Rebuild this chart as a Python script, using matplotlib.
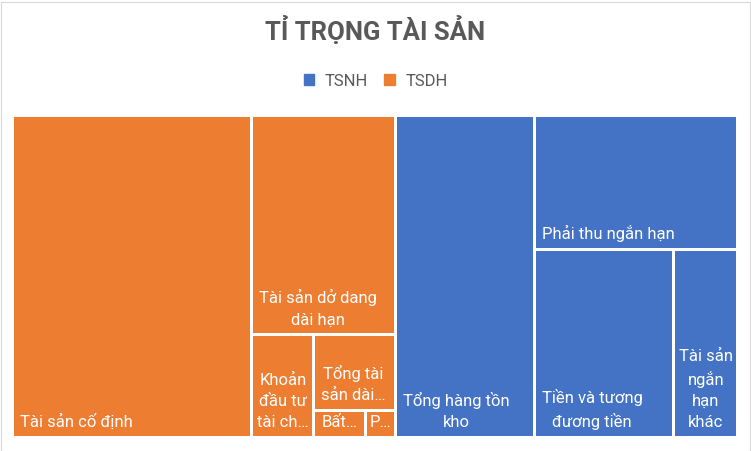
import matplotlib as mpl
mpl.use('Agg')
import matplotlib.pyplot as plt
from matplotlib.patches import Rectangle, Patch
from matplotlib.font_manager import FontProperties

# gia tri doc tu hinh (% tong tai san)
tsdh_labels = ['Tài sản cố định', 'Tài sản dở dang dài hạn', 'Khoản đầu tư tài chính dài hạn',
               'Tổng tài sản dài hạn khác', 'Bất động sản đầu tư', 'Phải thu dài hạn']
tsdh_values = [33.0, 13.5, 2.7, 2.65, 0.6, 0.35]
tsnh_labels = ['Tổng hàng tồn kho', 'Phải thu ngắn hạn', 'Tiền và tương đương tiền', 'Tài sản ngắn hạn khác']
tsnh_values = [19.1, 11.7, 11.2, 5.1]
group_names = ['TSNH', 'TSDH']
group_colors = ['#4472C4', '#ED7D31']

FONT = ['Roboto', 'DejaVu Sans']
plt.rcParams['font.family'] = FONT

fig = plt.figure(figsize=(7.51, 4.51), dpi=100)
L, R, T, B = 12.5, 737.5, 115, 437.5
ax = fig.add_axes([L / 751, 1 - B / 451, (R - L) / 751, (B - T) / 451])
W, H = R - L, B - T
ax.set_xlim(0, W)
ax.set_ylim(H, 0)
ax.axis('off')


def strips(values, x, y, w, h):
    # moi o lay mot dai theo canh ngan cua phan con lai
    order = sorted(range(len(values)), key=lambda i: -values[i])
    rest = float(sum(values))
    out = {}
    for k, i in enumerate(order):
        if k == len(order) - 1:
            out[i] = (x, y, w, h)
            break
        f = values[i] / rest
        if w >= h:
            sw = w * f
            out[i] = (x, y, sw, h)
            x += sw
            w -= sw
        else:
            sh = h * f
            out[i] = (x, y, w, sh)
            y += sh
            h -= sh
        rest -= values[i]
    return [out[i] for i in range(len(values))]


renderer = fig.canvas.get_renderer()
FS = 12
prop = FontProperties(family=FONT, size=FS)
LINE = 22.5
lp_h = renderer.get_text_width_height_descent('lp', prop, ismath=False)[1]


def tw(s):
    return renderer.get_text_width_height_descent(s, prop, ismath=False)[0]


def fit(s, avail):
    if tw(s) <= avail:
        return s
    while len(s) > 1 and tw(s.rstrip() + '…') > avail:
        s = s[:-1]
    return s.rstrip() + '…'


def wrap(label, avail_w, max_lines):
    words = label.split()
    lines = []
    i = 0
    while i < len(words):
        if len(lines) == max_lines - 1:
            lines.append(fit(' '.join(words[i:]), avail_w))
            break
        line = words[i]
        i += 1
        if tw(line) > avail_w:
            lines.append(fit(line, avail_w))
            continue
        while i < len(words) and tw(line + ' ' + words[i]) <= avail_w:
            line += ' ' + words[i]
            i += 1
        lines.append(line)
    return '\n'.join(lines)


gap = 3
pad = 6
group_vals = [sum(tsnh_values), sum(tsdh_values)]
group_rects = strips(group_vals, 0, 0, W, H)
for (gx, gy, gw, gh), labels, values, color in zip(group_rects, [tsnh_labels, tsdh_labels],
                                                   [tsnh_values, tsdh_values], group_colors):
    for (x, y, w, h), lab in zip(strips(values, gx, gy, gw, gh), labels):
        ax.add_patch(Rectangle((x + gap / 2, y + gap / 2), w - gap, h - gap, facecolor=color, edgecolor='none'))
        vw = w - gap
        nmax = max(1, int((h - gap - 14) // LINE))
        txt = wrap(lab, vw - 6, nmax)
        tx = x + gap / 2 + max(3, (vw - tw(max(txt.split('\n'), key=tw))) / 2) if vw < 70 else x + gap / 2 + pad
        ax.text(tx, y + h - gap / 2 - pad, txt, fontproperties=prop, color='white',
                ha='left', va='bottom', multialignment='center', linespacing=LINE / lp_h)

fig.text(0.5, 1 - 31 / 451, 'TỈ TRỌNG TÀI SẢN', ha='center', va='center', fontsize=18.5,
         fontweight='bold', color='#595959')
fig.legend(handles=[Patch(color=c, label=n) for n, c in zip(group_names, group_colors)],
           loc='center', bbox_to_anchor=(0.5, 1 - 81 / 451), ncol=2, frameon=False, fontsize=12,
           handlelength=0.65, handleheight=0.65, handletextpad=0.6, columnspacing=1.0, labelcolor='#595959')

fig.add_artist(Rectangle((0.5 / 751, 0.5 / 451), 749 / 751, 449 / 451, transform=fig.transFigure,
                         fill=False, edgecolor='#D9D9D9', linewidth=0.8))

fig.savefig('out.png', dpi=100)
